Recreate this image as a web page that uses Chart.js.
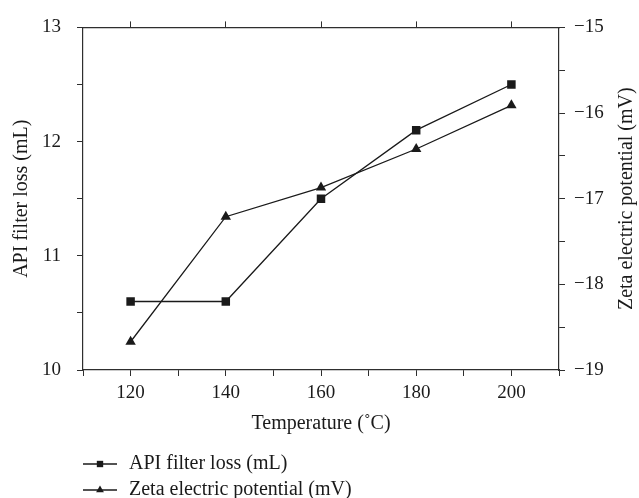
<!DOCTYPE html>
<html>
<head>
<meta charset="utf-8">
<script src="https://cdn.jsdelivr.net/npm/chart.js@4.4.0/dist/chart.umd.min.js"></script>
<style>
  html, body { margin: 0; padding: 0; background: #fff; }
  #chart { display: block; }
</style>
</head>
<body>
<canvas id="chart" width="639" height="498"></canvas>
<script>
// TEMPERATURE vs API FILTER LOSS / ZETA POTENTIAL - DUAL AXIS LINE

const temperatures = [120, 140, 160, 180, 200];
const filterLoss = [10.6, 10.6, 11.5, 12.1, 12.5];
const zetaPotential = [-18.67, -17.21, -16.87, -16.42, -15.91];

const xTickLabels = [120, 140, 160, 180, 200];
const leftTickLabels = [10, 11, 12, 13];
const rightTickLabels = [-19, -18, -17, -16, -15];

const seriesNames = ["API filter loss (mL)", "Zeta electric potential (mV)"];
const xTitle = "Temperature (˚C)";
const leftTitle = "API filter loss (mL)";
const rightTitle = "Zeta electric potential (mV)";

const ink = "#1a1a1a";
const axisInk = "#2e2e2e";
const serif = '"Liberation Serif", "DejaVu Serif", serif';
const tickFont = { family: serif, size: 19 };
const titleFont = { family: serif, size: 20 };

Chart.defaults.font.family = serif;
Chart.defaults.color = ink;

const minus = v => (v < 0 ? "\u2212" + Math.abs(v) : String(v));

// right title reads bottom-to-top, legend stacked under the axis title
const extrasPlugin = {
    id: "extras",
    afterDraw(chart) {
        const ctx = chart.ctx;
        const area = chart.chartArea;
        ctx.save();
        ctx.fillStyle = ink;
        ctx.font = '20px ' + serif;
        ctx.textAlign = "center";
        ctx.textBaseline = "middle";
        ctx.translate(627, (area.top + area.bottom) / 2);
        ctx.rotate(-Math.PI / 2);
        ctx.fillText(rightTitle, 0, 0);
        ctx.restore();

        chart.data.datasets.forEach((ds, i) => {
            const y = 464 + i * 26;
            ctx.save();
            ctx.strokeStyle = ds.borderColor;
            ctx.lineWidth = 1.3;
            ctx.beginPath();
            ctx.moveTo(83, y);
            ctx.lineTo(117, y);
            ctx.stroke();
            ctx.fillStyle = ds.pointBackgroundColor;
            Chart.helpers.drawPoint(ctx, { pointStyle: ds.pointStyle, radius: 4.5, borderWidth: 0, rotation: 0 }, 100, y);
            ctx.fillStyle = ink;
            ctx.font = '20px ' + serif;
            ctx.textAlign = "left";
            ctx.textBaseline = "middle";
            ctx.fillText(ds.label, 129, y);
            ctx.restore();
        });
    }
};

const chartDiv = document.getElementById("chart");

const chartData = {
    datasets: [
        {
            label: seriesNames[0],
            data: temperatures.map((t, i) => ({ x: t, y: filterLoss[i] })),
            xAxisID: "x",
            yAxisID: "y",
            borderColor: ink,
            borderWidth: 1.3,
            pointStyle: "rect",
            pointRadius: 6,
            pointHoverRadius: 6,
            pointBackgroundColor: ink,
            pointBorderWidth: 0,
            tension: 0
        },
        {
            label: seriesNames[1],
            data: temperatures.map((t, i) => ({ x: t, y: zetaPotential[i] })),
            xAxisID: "x",
            yAxisID: "y1",
            borderColor: ink,
            borderWidth: 1.3,
            pointStyle: "triangle",
            pointRadius: 6,
            pointHoverRadius: 6,
            pointBackgroundColor: ink,
            pointBorderWidth: 0,
            tension: 0
        }
    ]
};

const gridOpts = { drawOnChartArea: false, tickLength: 6, tickColor: axisInk, tickWidth: 1 };
const borderOpts = { color: axisInk, width: 1.2 };

new Chart(chartDiv, {
    type: "line",
    data: chartData,
    options: {
        responsive: false,
        animation: false,
        layout: { padding: 0 },
        plugins: {
            legend: { display: false },
            tooltip: { enabled: false }
        },
        scales: {
            x: {
                type: "linear",
                position: "bottom",
                min: 110,
                max: 210,
                ticks: {
                    stepSize: 10,
                    autoSkip: false,
                    maxRotation: 0,
                    padding: 6,
                    font: tickFont,
                    color: ink,
                    callback: v => (xTickLabels.includes(v) ? String(v) : "")
                },
                grid: gridOpts,
                border: borderOpts,
                title: { display: true, text: xTitle, font: titleFont, color: ink, padding: { top: 0, bottom: 62 } },
                afterFit: s => { s.height = 498 - 370; }
            },
            x2: {
                type: "linear",
                position: "top",
                min: 110,
                max: 210,
                ticks: { display: false },
                afterBuildTicks: s => { s.ticks = xTickLabels.map(v => ({ value: v })); },
                grid: gridOpts,
                border: borderOpts,
                afterFit: s => { s.height = 23; }
            },
            y: {
                type: "linear",
                position: "left",
                min: 10,
                max: 13,
                ticks: {
                    stepSize: 0.5,
                    autoSkip: false,
                    padding: 16,
                    font: tickFont,
                    color: ink,
                    callback: v => (leftTickLabels.includes(v) ? String(v) : "")
                },
                grid: gridOpts,
                border: borderOpts,
                title: { display: true, text: leftTitle, font: titleFont, color: ink, padding: { top: 10, bottom: 0 } },
                afterFit: s => { s.width = 83; }
            },
            y1: {
                type: "linear",
                position: "right",
                min: -19,
                max: -15,
                ticks: {
                    stepSize: 0.5,
                    autoSkip: false,
                    padding: 9,
                    font: tickFont,
                    color: ink,
                    callback: v => (rightTickLabels.includes(v) ? minus(v) : "")
                },
                grid: gridOpts,
                border: borderOpts,
                afterFit: s => { s.width = 639 - 559; }
            }
        }
    },
    plugins: [extrasPlugin]
});
</script>
</body>
</html>
